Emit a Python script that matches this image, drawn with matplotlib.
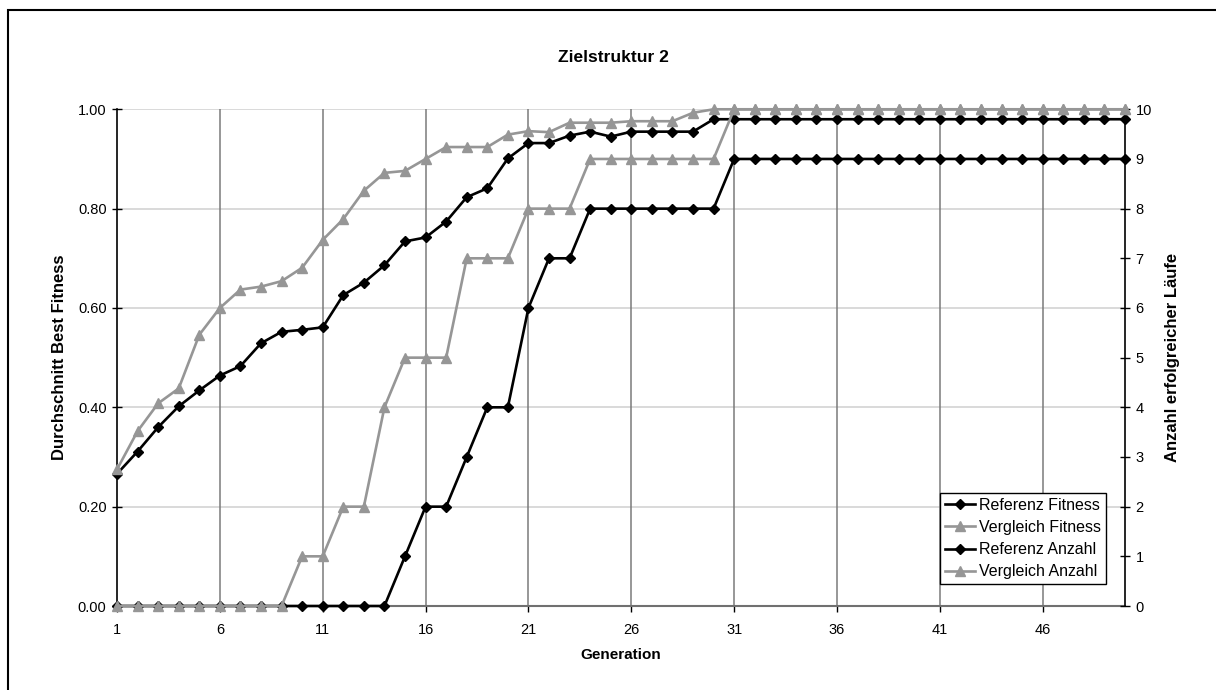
import matplotlib
matplotlib.use("Agg")
import matplotlib.pyplot as plt
from matplotlib.patches import Rectangle

plt.rcParams['font.family'] = ['Liberation Sans', 'DejaVu Sans']

generations = list(range(1, 51))
ref_fitness = [0.266, 0.311, 0.360, 0.402, 0.434, 0.464, 0.483, 0.529, 0.552, 0.556,
               0.561, 0.626, 0.651, 0.686, 0.734, 0.742, 0.774, 0.823, 0.841, 0.901,
               0.932, 0.932, 0.947, 0.955, 0.945, 0.955, 0.955, 0.955, 0.955, 0.980,
               0.980, 0.980, 0.980, 0.980, 0.980, 0.980, 0.980, 0.980, 0.980, 0.980,
               0.980, 0.980, 0.980, 0.980, 0.980, 0.980, 0.980, 0.980, 0.980, 0.980]
cmp_fitness = [0.275, 0.352, 0.408, 0.438, 0.546, 0.600, 0.637, 0.643, 0.654, 0.681,
               0.737, 0.779, 0.836, 0.872, 0.876, 0.900, 0.924, 0.924, 0.924, 0.949,
               0.956, 0.954, 0.973, 0.973, 0.973, 0.976, 0.976, 0.976, 0.993, 1.000,
               1.000, 1.000, 1.000, 1.000, 1.000, 1.000, 1.000, 1.000, 1.000, 1.000,
               1.000, 1.000, 1.000, 1.000, 1.000, 1.000, 1.000, 1.000, 1.000, 1.000]
ref_count = [0, 0, 0, 0, 0, 0, 0, 0, 0, 0,
             0, 0, 0, 0, 1, 2, 2, 3, 4, 4,
             6, 7, 7, 8, 8, 8, 8, 8, 8, 8,
             9, 9, 9, 9, 9, 9, 9, 9, 9, 9,
             9, 9, 9, 9, 9, 9, 9, 9, 9, 9]
cmp_count = [0, 0, 0, 0, 0, 0, 0, 0, 0, 1,
             1, 2, 2, 4, 5, 5, 5, 7, 7, 7,
             8, 8, 8, 9, 9, 9, 9, 9, 9, 9,
             10, 10, 10, 10, 10, 10, 10, 10, 10, 10,
             10, 10, 10, 10, 10, 10, 10, 10, 10, 10]

x_ticks = [1, 6, 11, 16, 21, 26, 31, 36, 41, 46]
left_ticks = [0.0, 0.2, 0.4, 0.6, 0.8, 1.0]
right_ticks = list(range(0, 11))

title = "Zielstruktur 2"
xlabel = "Generation"
ylabel_left = "Durchschnitt Best Fitness"
ylabel_right = "Anzahl erfolgreicher Läufe"
labels = ["Referenz Fitness", "Vergleich Fitness", "Referenz Anzahl", "Vergleich Anzahl"]

BLACK = "#000000"
GRAY = "#969696"

W, H = 1216, 690
fig = plt.figure(figsize=(W / 100, H / 100), dpi=100)
L, R, T, B = 117, 1125, 109.3, 606
ax = fig.add_axes([L / W, 1 - B / H, (R - L) / W, (B - T) / H])
ax2 = ax.twinx()

# gridlines
for g in x_ticks[1:]:
    ax.axvline(g, color="#7a7a7a", lw=1.1, zorder=0.5)
for v in left_ticks[1:]:
    ax.axhline(v, color="#d0d0d0", lw=1.1, zorder=0.4)

lw = 1.9
l1, = ax.plot(generations, ref_fitness, color=BLACK, lw=lw, marker="D", ms=4.6, zorder=2,
              clip_on=False)
l2, = ax.plot(generations, cmp_fitness, color=GRAY, lw=lw, marker="^", ms=6.5, zorder=3,
              clip_on=False)
l3, = ax2.plot(generations, ref_count, color=BLACK, lw=lw, marker="D", ms=4.6, zorder=2,
               clip_on=False)
l4, = ax2.plot(generations, cmp_count, color=GRAY, lw=lw, marker="^", ms=6.5, zorder=3,
               clip_on=False)

ax.set_xlim(1, 50)
ax.set_ylim(0, 1.0)
ax2.set_ylim(0, 10)
ax.set_xticks(x_ticks)
ax.set_xticklabels([str(t) for t in x_ticks])
ax.set_yticks(left_ticks)
ax.set_yticklabels([f"{v:.2f}" for v in left_ticks])
ax2.set_yticks(right_ticks)
ax2.set_yticklabels([str(v) for v in right_ticks])

for a in (ax, ax2):
    a.spines['top'].set_visible(False)
    a.set_facecolor("none")
ax.spines['bottom'].set_color("#707070")
ax.spines['bottom'].set_linewidth(1.5)
ax2.spines['bottom'].set_visible(False)
ax.spines['left'].set_linewidth(1.2)
ax2.spines['right'].set_linewidth(1.2)
ax2.spines['left'].set_visible(False)
ax.spines['right'].set_visible(False)

ax.tick_params(axis='x', direction='out', length=4, width=1, pad=8, labelsize=10.5)
ax.tick_params(axis='y', direction='inout', length=7, width=1, pad=4, labelsize=10.5)
ax2.tick_params(axis='y', direction='inout', length=7, width=1, pad=4, labelsize=10.5)

fig.text(613 / W, 1 - 57 / H, title, ha='center', va='center', fontsize=12.5, fontweight='bold')
fig.text(621 / W, 1 - 655 / H, xlabel, ha='center', va='center', fontsize=11, fontweight='bold')
fig.text(60 / W, 1 - 357 / H, ylabel_left, ha='center', va='center', rotation=90,
         fontsize=12, fontweight='bold')
fig.text(1172 / W, 1 - 357 / H, ylabel_right, ha='center', va='center', rotation=90,
         fontsize=12, fontweight='bold')

leg = ax2.legend([l1, l2, l3, l4], labels, loc='lower right',
                 bbox_to_anchor=(0.981, 0.044), fontsize=11.5, numpoints=1,
                 handlelength=1.9, handletextpad=0.25, labelspacing=0.45,
                 borderpad=0.3, borderaxespad=0, fancybox=False, framealpha=1)
leg.get_frame().set_edgecolor("#000000")
leg.get_frame().set_linewidth(1.0)

fig.patches.append(Rectangle((8 / W, -0.2), 1.2, 1.2 - 10.3 / H, transform=fig.transFigure,
                             fill=False, edgecolor="black", lw=1.5))

fig.savefig("out.png", dpi=100)
